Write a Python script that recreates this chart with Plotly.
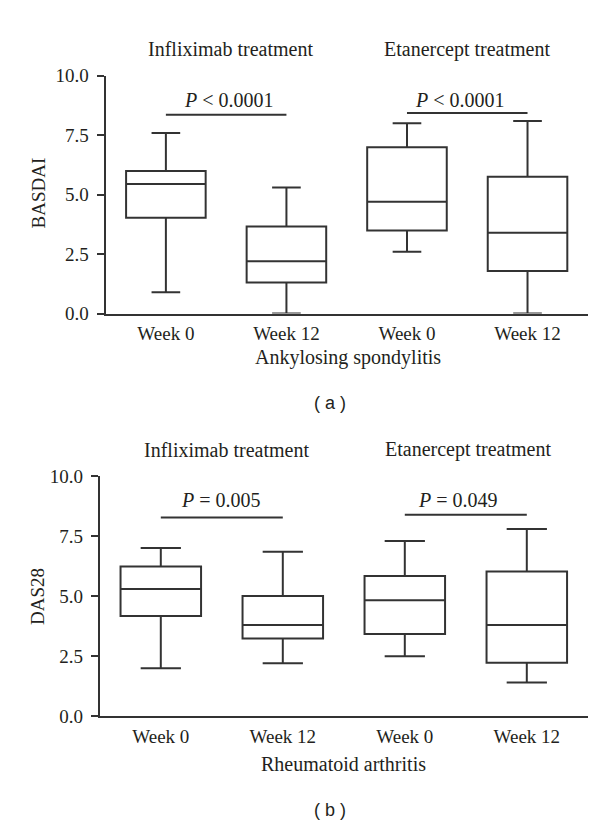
import plotly.graph_objects as go

# ---- data ----
categories = ["Week 0", "Week 12", "Week 0", "Week 12"]
groups = ["Infliximab treatment", "Etanercept treatment"]

# Panel (a) Ankylosing spondylitis, BASDAI
as_lower = [0.9, 0.0, 2.6, 0.0]
as_q1 = [4.03, 1.31, 3.5, 1.79]
as_median = [5.45, 2.2, 4.7, 3.4]
as_q3 = [6.0, 3.66, 7.0, 5.75]
as_upper = [7.6, 5.3, 8.0, 8.1]
as_pvalues = ["<i>P</i> < 0.0001", "<i>P</i> < 0.0001"]
as_pbar_y = [8.36, 8.44]

# Panel (b) Rheumatoid arthritis, DAS28
ra_lower = [2.0, 2.2, 2.5, 1.4]
ra_q1 = [4.17, 3.23, 3.42, 2.22]
ra_median = [5.3, 3.8, 4.83, 3.8]
ra_q3 = [6.23, 5.0, 5.84, 6.03]
ra_upper = [7.0, 6.85, 7.3, 7.8]
ra_pvalues = ["<i>P</i> = 0.005", "<i>P</i> = 0.049"]
ra_pbar_y = [8.28, 8.39]

yticks = [0.0, 2.5, 5.0, 7.5, 10.0]

SERIF = "Liberation Serif"
INK = "#333333"
TXT = "#231f20"
H = 829.0
W = 600.0

xpos = list(range(len(categories)))

fig = go.Figure()

def add_panel(xa, ya, q1, med, q3, lo, hi, ww):
    fig.add_trace(go.Box(
        x=xpos, q1=q1, median=med, q3=q3, lowerfence=lo, upperfence=hi,
        width=0.66, whiskerwidth=ww, boxpoints=False,
        fillcolor="white", line=dict(color=INK, width=2),
        xaxis=xa, yaxis=ya, showlegend=False, hoverinfo="skip",
    ))

add_panel("x", "y", as_q1, as_median, as_q3, as_lower, as_upper, 0.36)
add_panel("x2", "y2", ra_q1, ra_median, ra_q3, ra_lower, ra_upper, 0.5)

def px_x(p):
    return p / W

def px_y(p):
    return 1 - p / H

axis_common = dict(showline=True, linecolor=INK, linewidth=2, showgrid=False,
                   zeroline=False, tickfont=dict(family=SERIF, size=19, color=TXT))

fig.update_layout(
    width=600, height=829,
    margin=dict(l=0, r=0, t=0, b=0),
    paper_bgcolor="white", plot_bgcolor="white",
    xaxis=dict(domain=[px_x(97.6), px_x(579.8)], range=[-0.5, 3.5], anchor="y",
               tickvals=xpos, ticktext=categories, ticks="", ticklabelstandoff=2,
               **axis_common),
    yaxis=dict(domain=[px_y(303.3), px_y(59.3)], range=[0, 10], anchor="x",
               tickvals=yticks, tickformat=".1f", ticks="outside", ticklen=7,
               tickcolor=INK, tickwidth=2, ticklabelstandoff=4, **axis_common),
    xaxis2=dict(domain=[px_x(91.8), px_x(579.8)], range=[-0.5, 3.5], anchor="y2",
                tickvals=xpos, ticktext=categories, ticks="", ticklabelstandoff=2,
                **axis_common),
    yaxis2=dict(domain=[px_y(716.3), px_y(470)], range=[0, 10], anchor="x2",
                tickvals=yticks, tickformat=".1f", ticks="outside", ticklen=7,
                tickcolor=INK, tickwidth=2, ticklabelstandoff=4, **axis_common),
)

ann = []
shapes = []

def panel_extras(xr, yr, pvals, pbar_y, title_y_px, title_x, xtitle, xtitle_px, label,
                 label_px, ytitle, ytitle_px, p_x):
    for gi, g in enumerate(groups):
        ann.append(dict(text=g, x=title_x[gi], y=px_y(title_y_px), xref=xr, yref="paper",
                        showarrow=False, xanchor="center", yanchor="middle",
                        font=dict(family=SERIF, size=20, color=TXT)))
        x0 = 2 * gi
        shapes.append(dict(type="line", xref=xr, yref=yr, x0=x0, x1=x0 + 1,
                           y0=pbar_y[gi], y1=pbar_y[gi], line=dict(color=INK, width=2)))
        ann.append(dict(text=pvals[gi], x=p_x[gi], y=9.0, xref=xr, yref=yr,
                        showarrow=False, xanchor="center", yanchor="middle",
                        font=dict(family=SERIF, size=20, color=TXT)))
    ann.append(dict(text=xtitle, x=px_x(xtitle_px[0]), y=px_y(xtitle_px[1]), xref="paper",
                    yref="paper", showarrow=False, xanchor="center", yanchor="middle",
                    font=dict(family=SERIF, size=20, color=TXT)))
    ann.append(dict(text=label, x=px_x(label_px[0]), y=px_y(label_px[1]), xref="paper",
                    yref="paper", showarrow=False, xanchor="center", yanchor="middle",
                    font=dict(family="Liberation Sans", size=18, color=TXT)))
    ann.append(dict(text=ytitle, x=px_x(ytitle_px[0]), y=px_y(ytitle_px[1]), xref="paper",
                    yref="paper", showarrow=False, xanchor="center", yanchor="middle",
                    textangle=-90, font=dict(family=SERIF, size=19, color=TXT)))

panel_extras("x", "y", as_pvalues, as_pbar_y, 32, [0.54, 2.5], "Ankylosing spondylitis",
             (340, 348), "( a )", (322, 395), "BASDAI", (30, 180), [0.52, 2.44])
panel_extras("x2", "y2", ra_pvalues, ra_pbar_y, 443, [0.54, 2.52], "Rheumatoid arthritis",
             (335, 765), "( b )", (322, 813), "DAS28", (30, 594), [0.49, 2.44])

fig.update_layout(annotations=ann, shapes=shapes)

fig.write_html("out.html")
